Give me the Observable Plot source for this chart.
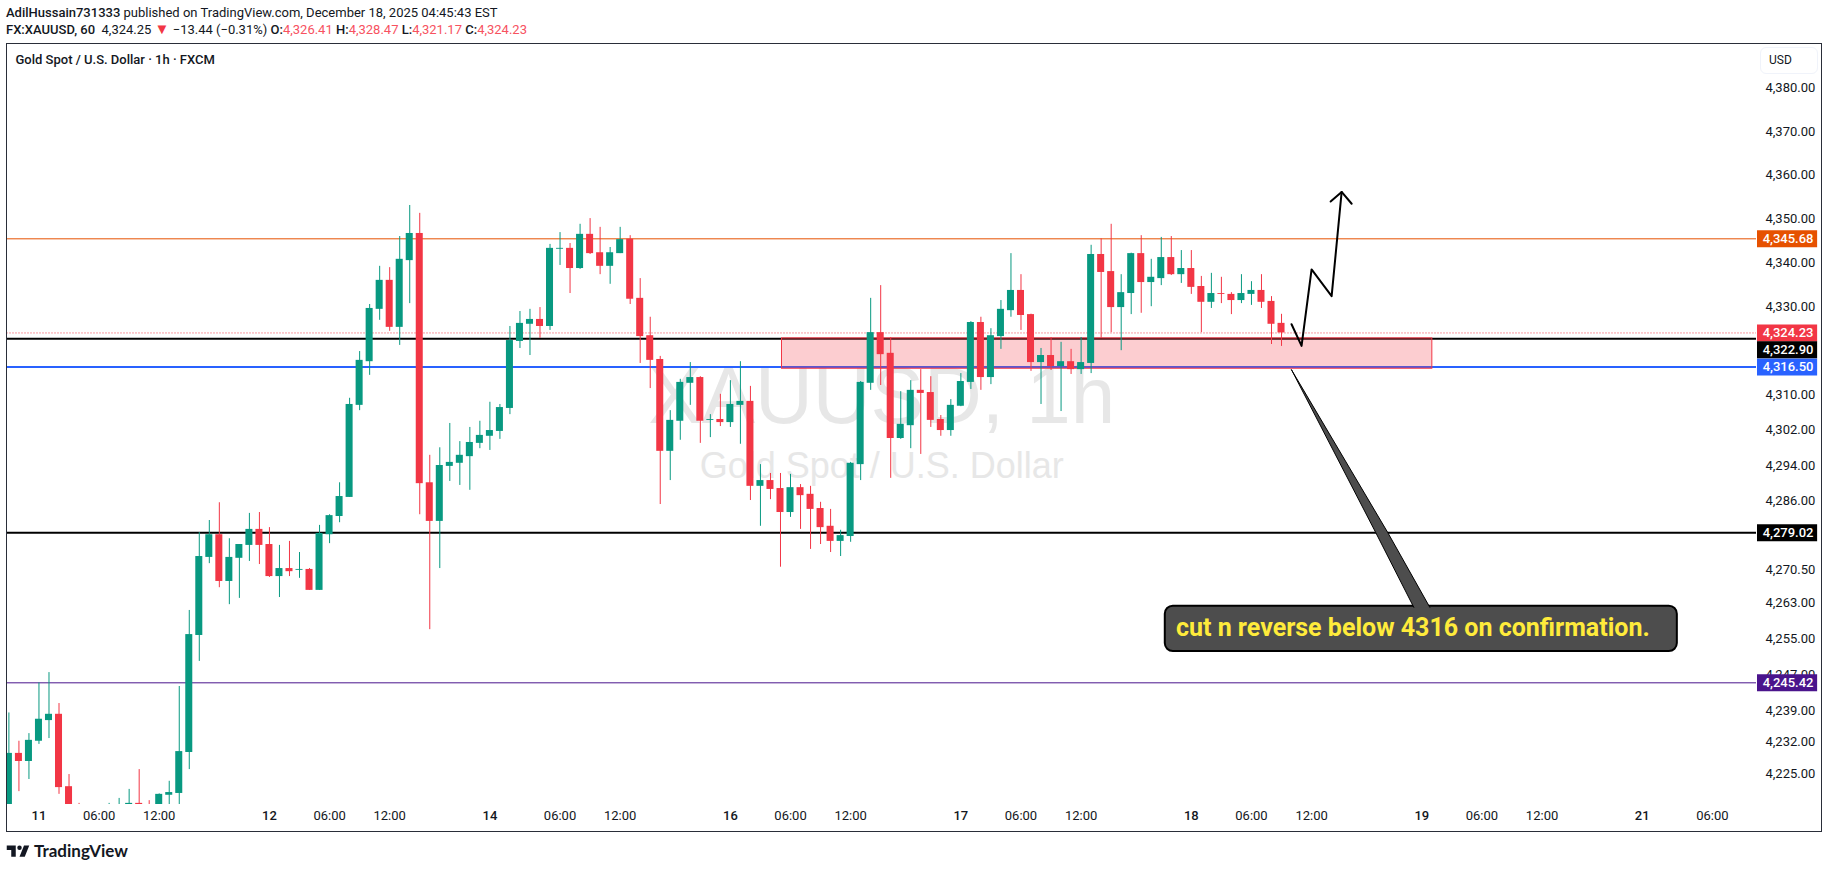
<!DOCTYPE html>
<html><head><meta charset="utf-8">
<script src="https://cdn.jsdelivr.net/npm/d3@7"></script>
<script src="https://cdn.jsdelivr.net/npm/@observablehq/plot@0.6"></script>
<style>
html,body{margin:0;padding:0;background:#fff;overflow:hidden}
body{width:1829px;height:869px;position:relative;font-family:Roboto,sans-serif;color:#131722}
#head{height:43px;box-sizing:border-box;padding:4px 0 0 6px;font-size:13px;line-height:17px;white-space:pre}
#head b{font-weight:500}
#head i{font-style:normal;color:#f7525f}
#head u{text-decoration:none;color:#f23645;font-size:15px;line-height:13px}
#frame{position:absolute;left:6px;top:43px;width:1816px;height:789px;box-sizing:border-box;border:1.5px solid #2a2e39;pointer-events:none}
#usd{position:absolute;left:1760px;top:47px;width:58px;height:27px;box-sizing:border-box;border:1px solid #f0f3fa;border-radius:6px;font-size:12px;line-height:25px;padding-left:8px}
#foot{position:absolute;left:6px;top:840px;display:flex;align-items:center;font-family:Lato,sans-serif;font-weight:700;font-size:17px;color:#131722}
#foot svg{margin-right:4px}
</style></head><body>
<div id="head"><b>AdilHussain731333</b> published on TradingView.com, December 18, 2025 04:45:43 EST
<b>FX:XAUUSD, 60</b>  4,324.25 <u>▼</u> −13.44 (−0.31%) <b>O:</b><i>4,326.41</i> <b>H:</b><i>4,328.47</i> <b>L:</b><i>4,321.17</i> <b>C:</b><i>4,324.23</i></div>
<div id="chart"></div>
<div id="frame"></div>
<div id="usd">USD</div>
<div id="foot"><svg width="24" height="16" viewBox="1 4 32 19"><path fill="#131722" d="M14 6H2v6h6v9h6V6Zm12 15h-7l6-15h7l-6 15Zm-7-9a3 3 0 1 0 0-6 3 3 0 0 0 0 6Z"/></svg>TradingView</div>
<script>
// hourly candles, first bar is index -3 (three bars before the "11" day label)
const firstBar = -3;
const opens = [
4205,4229.7,4227.9,4232.4,4237.0,4238.4,4222.3,4212,4208,4204,
4207,4210,4213,4218.6,4217,4213,4220.4,4220.8,4229.9,4256.0,
4273.5,4278.6,4268.1,4273.3,4276.2,4279.8,4276.4,4269.2,4271.0,4270.6,
4270.8,4266.1,4278.6,4282.7,4287.0,4307.8,4317.7,4329.6,4336.2,4325.5,
4340.7,4346.9,4290.3,4281.6,4294.0,4294.7,4296.2,4299.2,4300.8,4301.9,
4307.1,4322.3,4326.2,4327.3,4325.7,4343.3,4343.5,4338.9,4346.7,4342.5,
4339.4,4342.3,4345.6,4332.1,4323.6,4318.2,4297.4,4304.2,4312.8,4314.1,
4304.4,4304.6,4303.9,4307.8,4308.7,4289.5,4290.8,4289.0,4283.6,4289.2,
4287.7,4284.5,4280.5,4277.1,4278.2,4294.4,4312.8,4324.3,4319.6,4300.3,
4303.2,4311.2,4310.7,4304.6,4302.1,4307.6,4313.0,4326.6,4314.1,4323.4,
4329.3,4333.9,4328.4,4317.5,4319.1,4316.6,4317.7,4315.9,4317.3,4342.1,
4338.2,4330.0,4333.2,4342.3,4335.7,4336.6,4341.4,4337.5,4338.9,4334.8,
4331.2,4333.2,4333.0,4331.6,4333.0,4333.9,4331.4,4326.41];
const highs = [
4238.7,4232.4,4234.1,4245.4,4247.7,4240.8,4225.0,4218.6,4216,4214,
4218.6,4219.7,4221.7,4226.1,4219.2,4220.7,4223.5,4244.6,4261.6,4279.1,
4281.8,4285.8,4277.7,4276.4,4283.4,4283.6,4280.2,4276.2,4277.1,4274.6,
4271.0,4280.7,4283.1,4290.3,4309.4,4320.0,4330.7,4339.4,4339.1,4346.2,
4353.3,4351.5,4296.5,4298.2,4303.7,4299.6,4302.8,4304.2,4308.5,4308.0,
4325.7,4329.1,4329.6,4330.0,4344.4,4347.1,4344.6,4349.0,4350.3,4348.3,
4343.7,4348.3,4346.4,4336.6,4327.8,4318.9,4306.6,4313.7,4317.5,4314.3,
4305.7,4310.3,4313.4,4317.7,4312.1,4294.4,4292.4,4292.4,4292.2,4289.9,
4289.5,4285.9,4284.3,4279.6,4294.9,4313.2,4332.1,4335.0,4323.2,4310.9,
4313.4,4315.9,4314.3,4305.5,4309.1,4315.0,4326.8,4327.8,4325.2,4331.6,
4342.3,4337.5,4328.5,4320.7,4323.2,4322.1,4320.5,4323.2,4344.2,4345.7,
4349.0,4337.5,4342.4,4346.4,4341.0,4346.0,4346.2,4343.0,4343.0,4337.1,
4337.8,4336.9,4333.4,4337.5,4335.9,4337.5,4332.5,4328.47];
const lows = [
4195,4221.2,4223.9,4231.7,4233.0,4220.6,4208,4202,4200,4198,
4201,4205,4210,4212,4209,4211,4214,4214,4226.1,4250.2,
4272.1,4266.7,4262.9,4264.3,4272.6,4271.9,4269.0,4264.5,4269.2,4268.8,
4266.1,4266.1,4276.6,4281.3,4287.0,4306.6,4314.6,4327.1,4324.6,4321.4,
4330.9,4283.1,4257.3,4271.0,4290.6,4289.7,4288.6,4298.0,4297.6,4300.1,
4305.7,4320.7,4319.1,4323.0,4324.8,4339.6,4333.2,4338.7,4342.1,4337.5,
4335.3,4342.3,4330.7,4317.3,4311.6,4285.4,4290.8,4299.9,4307.8,4299.2,
4300.5,4303.0,4302.8,4299.0,4286.3,4280.5,4286.5,4271.3,4282.5,4279.8,
4275.3,4276.4,4274.6,4273.7,4276.9,4290.8,4311.2,4312.3,4291.3,4300.1,
4298.0,4296.7,4302.8,4300.8,4300.8,4307.5,4311.4,4311.2,4312.5,4320.5,
4327.8,4324.8,4315.5,4308.0,4315.7,4306.4,4314.8,4314.8,4315.0,4323.0,
4324.3,4320.2,4328.4,4328.7,4330.2,4335.0,4337.3,4335.5,4333.0,4324.3,
4329.8,4330.9,4328.4,4330.9,4330.5,4329.8,4321.6,4321.17];
const closes = [
4229.7,4227.9,4232.6,4237.3,4238.4,4222.1,4212,4208,4204,4209,
4213,4216,4218.6,4215,4213,4220.6,4221.0,4230.1,4256.2,4273.7,
4278.6,4268.1,4273.5,4276.4,4279.8,4276.2,4269.2,4271.0,4270.3,4270.8,
4266.1,4278.9,4282.9,4287.2,4308.0,4318.0,4329.8,4336.2,4325.5,4341.0,
4346.9,4290.1,4281.6,4294.2,4294.9,4296.5,4299.4,4301.0,4302.1,4307.3,
4322.5,4326.4,4327.3,4325.7,4343.5,4343.5,4338.9,4346.7,4342.3,4339.4,
4342.5,4345.5,4331.9,4323.4,4318.0,4297.4,4304.4,4313.0,4314.1,4304.2,
4304.6,4303.9,4308.0,4308.7,4289.5,4290.8,4288.8,4283.6,4289.2,4287.4,
4284.3,4280.2,4277.1,4278.4,4294.7,4313.0,4324.3,4319.3,4300.3,4303.5,
4311.2,4310.5,4304.4,4302.1,4307.8,4313.2,4326.6,4314.1,4323.6,4329.6,
4333.9,4328.2,4317.5,4319.1,4316.6,4317.7,4315.9,4317.5,4342.1,4338.0,
4330.0,4333.4,4342.3,4335.7,4336.9,4341.4,4337.5,4338.9,4334.6,4331.2,
4333.2,4333.0,4331.6,4333.2,4333.9,4331.2,4326.2,4324.23];

const priceTicks = [4380,4370,4360,4350,4340,4330,4310,4302,4294,4286,4270.5,4263,4255,4247,4239,4232,4225];
const dayTicks = [0,23,45,69,92,115,138,160];
const dayLabels = ["11","12","14","16","17","18","19","21"];
const hourTicks = [6,12,29,35,52,58,75,81,98,104,121,127,144,150,167];
const hourLabels = ["06:00","12:00","06:00","12:00","06:00","12:00","06:00","12:00","06:00","12:00","06:00","12:00","06:00","12:00","06:00"];

const levelPrices = [4345.68,4322.90,4316.50,4279.02,4245.42];
const levelColors = ["#e65100","#000000","#2962ff","#000000","#4a148c"];
const levelWidths = [1,2,2,2,1];
const lastPrice = 4324.23;
const tagPrices = [4345.68,4324.23,4316.50,4279.02,4245.42];
const tagColors = ["#e65100","#f23645","#2962ff","#000000","#4a148c"];

const zoneBars = [74.15,139.05];
const zonePrices = [4323.0,4316.1];
const pathBars = [125,126,127,129,130];
const pathPrices = [4326.2,4321.3,4338.7,4332.6,4356.4];
const headBars = [128.9,130,131];
const headPrices = [4354.2,4356.4,4353.7];
const boxBars = [112.4,163.5];
const boxPrices = [4262.55,4252.4];
const tailBars = [125,133.4,137.2,138.8,134.6,125];
const tailPrices = [4315.85,4279.1,4262.3,4262.3,4279.1,4315.85];
const noteText = "cut n reverse below 4316 on confirmation.";

const candles = opens.map((o,k)=>({i:firstBar+k,o,h:highs[k],l:lows[k],c:closes[k]}));
const up = "#089981", down = "#f23645";
const col = d => d.c >= d.o ? up : down;
const levels = levelPrices.map((p,k)=>({p,color:levelColors[k],w:levelWidths[k]}));
const tags = tagPrices.map((p,k)=>({p,color:tagColors[k]}));
const money = d3.format(",.2f");
const axisFont = {fontSize:13,fill:"#131722"};

const chart = Plot.plot({
  width:1829,height:789,marginLeft:6.5,marginRight:73,marginTop:1,marginBottom:28,
  style:{fontFamily:'Roboto,sans-serif',background:"#fff",overflow:"visible",display:"block"},
  x:{domain:[-3.19,171.4],label:null},
  y:{type:"log",domain:[4218.35,4390.3],label:null},
  marks:[
    Plot.text(["XAUUSD, 1h"],{frameAnchor:"middle",dy:-27,fontSize:80,fontFamily:"Liberation Sans",fill:"#e7e7e7"}),
    Plot.text(["Gold Spot / U.S. Dollar"],{frameAnchor:"middle",dy:42,fontSize:36,fontFamily:"Liberation Sans",fill:"#e7e7e7"}),
    Plot.ruleY(levels,{y:"p",stroke:"color",strokeWidth:"w",clip:true}),
    Plot.ruleY([lastPrice],{stroke:down,strokeWidth:1,strokeDasharray:"1,2",clip:true}),
    Plot.rect([0],{x1:()=>zoneBars[0],x2:()=>zoneBars[1],y1:()=>zonePrices[0],y2:()=>zonePrices[1],fill:down,fillOpacity:.25,stroke:down,strokeWidth:1,clip:true}),
    Plot.ruleX(candles,{x:"i",y1:"l",y2:"h",stroke:col,strokeWidth:1,clip:true}),
    Plot.rect(candles,{x1:d=>d.i-.35,x2:d=>d.i+.35,y1:"o",y2:"c",fill:col,clip:true}),
    Plot.line(pathBars.map((b,k)=>({b,p:pathPrices[k]})),{x:"b",y:"p",stroke:"#000",strokeWidth:2}),
    Plot.line(headBars.map((b,k)=>({b,p:headPrices[k]})),{x:"b",y:"p",stroke:"#000",strokeWidth:2}),
    Plot.rect([0],{x1:()=>boxBars[0],x2:()=>boxBars[1],y1:()=>boxPrices[0],y2:()=>boxPrices[1],fill:"#4d4d4d",stroke:"#000",strokeWidth:2,rx:8}),
    Plot.line(tailBars.map((b,k)=>({b,p:tailPrices[k]})),{x:"b",y:"p",fill:"#4d4d4d",stroke:"none"}),
    Plot.line(tailBars.slice(0,3).map((b,k)=>({b,p:tailPrices[k]})),{x:"b",y:"p",stroke:"#000",strokeWidth:1}),
    Plot.line(tailBars.slice(3).map((b,k)=>({b,p:tailPrices[k+3]})),{x:"b",y:"p",stroke:"#000",strokeWidth:1}),
    Plot.text([noteText],{x:()=>137.1,y:()=>4257.6,fill:"#ffeb3b",fontSize:25,fontWeight:700,fontFamily:"Roboto"}),
    Plot.text(["Gold Spot / U.S. Dollar · 1h · FXCM"],{frameAnchor:"top-left",dx:8.5,dy:10,fontSize:13,fontWeight:500,fill:"#131722"}),
    Plot.axisY(priceTicks,{anchor:"right",tickSize:0,tickPadding:9,tickFormat:money,label:null,dy:-1,...axisFont}),
    Plot.axisX(hourTicks,{anchor:"bottom",tickSize:0,tickPadding:6,tickFormat:d=>hourLabels[hourTicks.indexOf(d)],label:null,...axisFont}),
    Plot.axisX(dayTicks,{anchor:"bottom",tickSize:0,tickPadding:6,tickFormat:d=>dayLabels[dayTicks.indexOf(d)],label:null,fontWeight:500,...axisFont}),
    Plot.ruleY(tags,{y:"p",x1:()=>171.5,x2:()=>177.5,stroke:"color",strokeWidth:17}),
    Plot.text(tags,{y:"p",x:()=>174.55,text:d=>money(d.p),fill:"#fff",fontSize:13,fontWeight:500}),
    Plot.ruleY([4322.90],{x1:()=>171.5,x2:()=>177.5,stroke:"#000",strokeWidth:17,dy:11}),
    Plot.text([4322.90],{y:d=>d,x:()=>174.55,text:d=>money(d),fill:"#fff",fontSize:13,fontWeight:500,dy:11})
  ]
});
document.getElementById("chart").append(chart);
</script>
</body></html>
